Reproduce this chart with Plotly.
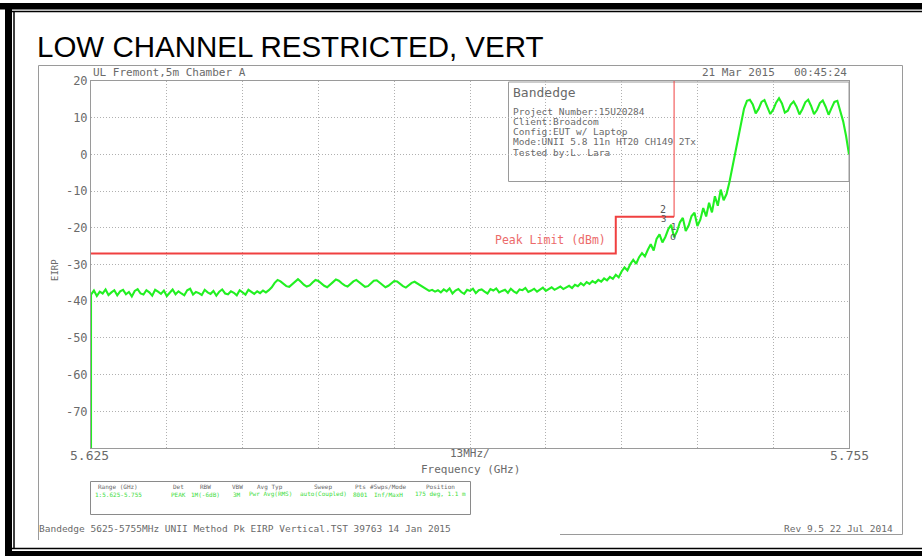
import numpy as np
import plotly.graph_objects as go

# ---- sweep data: EIRP (dBm) in 0.5 MHz bins from 5.625 to 5.755 GHz ----
f_start, f_stop = 5.625, 5.755

floor_low = [
    -38.2, -37.1, -38.6, -37.4, -37.9, -36.8, -38.3, -37.6, -37.0, -38.4,
    -37.3, -36.9, -38.1, -37.5, -38.7, -37.2, -36.7, -37.9, -38.2, -37.0,
    -37.6, -38.5, -36.9, -37.4, -38.0, -37.1, -38.6, -37.7, -36.8, -38.1,
    -37.3, -37.9, -38.4, -37.0, -36.6, -38.2, -37.5, -37.8, -38.3, -36.9,
    -37.6, -38.0, -37.2, -38.5, -37.4, -36.8, -37.9, -38.1, -37.3, -37.7,
    -38.4, -37.0, -37.6, -38.2, -36.9, -37.5, -38.0, -37.3, -37.8, -37.1,
    -37.6, -37.0,
]
floor_bump = [
    -36.2, -35.0, -34.2, -34.6, -35.3, -35.9, -36.1, -35.4, -34.5, -34.0,
    -34.7, -35.5, -36.0, -35.7, -34.9, -34.2, -34.5, -35.2, -35.8, -36.2,
    -35.6, -34.8, -34.1, -34.4, -35.1, -35.7, -36.0, -35.3, -34.6, -34.2,
    -34.8, -35.6, -36.1, -35.9, -35.0, -34.4, -34.3, -35.0, -35.7, -36.2,
    -35.8, -35.1, -34.5, -34.6, -35.3, -35.9, -36.3, -35.7, -35.0, -34.7,
    -35.2, -35.9, -36.4, -36.8, -37.2, -36.9, -37.4, -37.0,
]
floor_high = [
    -37.6, -36.8, -37.3, -36.5, -37.9, -37.1, -36.7, -37.5, -38.0, -36.9,
    -37.2, -36.6, -37.8, -37.0, -36.8, -37.4, -37.9, -36.7, -37.1, -36.5,
    -37.6, -37.2, -36.9, -37.7, -36.6, -37.3, -37.8, -36.8, -37.0, -36.4,
    -37.5, -37.1, -36.6, -37.4, -36.9, -36.3, -37.2, -36.7, -36.2, -36.9,
    -36.5, -36.0, -36.7, -36.3,
]
skirt_low = [
    -35.8, -36.4, -35.5, -35.9, -35.1, -35.7, -34.8, -35.3, -34.5, -35.0,
    -34.2, -34.7, -33.8, -34.3, -33.4, -33.9,
]
skirt_mid = [
    -32.8, -33.5, -31.9, -30.8, -31.6, -29.9, -28.7, -29.8, -28.0, -26.9,
    -27.8, -26.0,
    -24.5, -26.2, -23.0, -21.8, -24.0, -22.5, -20.4, -19.2, -22.6, -21.0,
    -18.5, -17.3, -20.9, -19.4, -16.8, -15.9, -19.5,
    -17.8, -14.6, -16.9, -13.2, -15.8, -11.4, -14.0, -9.6, -12.5,
]
band_edge_rise = [-10.8, -7.5, -3.6, 0.4, 4.3, 8.2]
in_band = [
    12.5, 14.6, 14.9, 13.6, 11.2, 12.4, 14.3, 14.8, 13.1, 11.0,
    12.2, 14.1, 15.3, 13.9, 11.4, 11.9, 13.6, 14.4, 13.0, 10.9,
    12.3, 14.2, 14.9, 13.2, 11.0, 12.1, 14.0, 14.7, 13.0, 10.8,
    12.6, 14.3, 14.6, 11.5, 9.0, 5.0, 0.0,
]
sweep_start_dbm = -80.0  # trace enters from the bottom of the screen

eirp = floor_low + floor_bump + floor_high + skirt_low + skirt_mid + band_edge_rise + in_band
freq = np.linspace(f_start, f_stop, len(eirp))
trace_f = np.concatenate([[f_start], freq])
trace_db = np.concatenate([[sweep_start_dbm], eirp])

# ---- peak limit line (dBm) ----
limit_f = [5.625, 5.715, 5.715, 5.725]
limit_db = [-27, -27, -17, -17]
edge_f = [5.725, 5.725]
edge_db = [-17, 20]

y_ticks = [20, 10, 0, -10, -20, -30, -40, -50, -60, -70]
x_grid = [5.625 + 0.013 * k for k in range(11)]

info_lines = [
    "Project Number:15U20284",
    "Client:Broadcom",
    "Config:EUT w/ Laptop",
    "Mode:UNII 5.8 11n HT20 CH149 2Tx",
    "Tested by:L. Lara",
]
table_heads = ["Range (GHz)", "Det", "RBW", "VBW", "Avg Typ", "Sweep", "Pts", "#Swps/Mode", "Position"]
table_vals = ["1:5.625-5.755", "PEAK", "1M(-6dB)", "3M", "Pwr Avg(RMS)", "auto(Coupled)", "8001", "Inf/MaxH", "175 deg, 1.1 m"]
table_x = [118, 178, 205, 237, 270, 323, 360, 388, 440]

# ---- layout geometry (pixels) ----
W_FIG, H_FIG = 922, 558
L, R, T, B = 91, 849, 81, 448
PW, PH = R - L, B - T


def px(x):
    return (x - L) / PW


def py(y):
    return (B - y) / PH


MONO = "DejaVu Sans Mono"
GRAY = "#6a6a6a"
GREEN = "#22f022"
RED = "#f04040"
GRID = "#b0b0b0"

fig = go.Figure()
fig.add_trace(go.Scatter(x=trace_f, y=trace_db, mode="lines",
                         line=dict(color=GREEN, width=2.1), hoverinfo="skip"))
fig.add_trace(go.Scatter(x=limit_f, y=limit_db, mode="lines",
                         line=dict(color=RED, width=2), hoverinfo="skip"))
fig.add_trace(go.Scatter(x=edge_f, y=edge_db, mode="lines",
                         line=dict(color=RED, width=1), hoverinfo="skip"))

shapes = []
# outer page borders
shapes.append(dict(type="rect", xref="paper", yref="paper", x0=px(0), x1=px(922), y0=py(3), y1=py(9.5),
                   fillcolor="black", line=dict(width=0), layer="above"))
shapes.append(dict(type="line", xref="paper", yref="paper", x0=px(12), x1=px(922), y0=py(11.5), y1=py(11.5),
                   line=dict(color="black", width=1.5), layer="above"))
shapes.append(dict(type="rect", xref="paper", yref="paper", x0=px(5), x1=px(12), y0=py(3), y1=py(556),
                   fillcolor="black", line=dict(width=0), layer="above"))
shapes.append(dict(type="line", xref="paper", yref="paper", x0=px(14), x1=px(14), y0=py(11), y1=py(549),
                   line=dict(color="black", width=1.5), layer="above"))
shapes.append(dict(type="line", xref="paper", yref="paper", x0=px(12), x1=px(922), y0=py(548.5), y1=py(548.5),
                   line=dict(color="black", width=1.5), layer="above"))
shapes.append(dict(type="rect", xref="paper", yref="paper", x0=px(5), x1=px(922), y0=py(551), y1=py(556),
                   fillcolor="black", line=dict(width=0), layer="above"))
# analyzer screen frame
for x0, y0, x1, y1 in [(38.5, 65.5, 902.5, 65.5), (38.5, 65.5, 38.5, 540), (902.5, 65.5, 902.5, 534.5),
                       (560, 534.5, 902.5, 534.5)]:
    shapes.append(dict(type="line", xref="paper", yref="paper", x0=px(x0), x1=px(x1), y0=py(y0), y1=py(y1),
                       line=dict(color="#9a9a9a", width=1), layer="above"))
# info box (covers the grid, sits under the traces)
shapes.append(dict(type="rect", xref="paper", yref="paper", x0=px(508.5), x1=px(849), y0=py(82), y1=py(181.5),
                   fillcolor="white", line=dict(color="#9a9a9a", width=1), layer="between"))
# settings table box
shapes.append(dict(type="rect", xref="paper", yref="paper", x0=px(90.5), x1=px(470.5), y0=py(481.5), y1=py(514.5),
                   fillcolor="white", line=dict(color="#8a8a8a", width=1), layer="above"))

ann = []


def text(s, x, y, size, color=GRAY, anchor="left", family=MONO, yanchor="middle"):
    ann.append(dict(text=s, x=px(x), y=py(y), xref="paper", yref="paper", showarrow=False,
                    xanchor=anchor, yanchor=yanchor, font=dict(family=family, size=size, color=color)))


text("LOW CHANNEL RESTRICTED, VERT", 35, 47, 29.5, color="black", family="Liberation Sans")
text("UL Fremont,5m Chamber A", 91, 73, 11)
text("21 Mar 2015", 700, 73, 11)
text("00:45:24", 849, 73, 11, anchor="right")
text("Bandedge", 511, 92, 13)
for k, line in enumerate(info_lines):
    text(line, 511, 111 + k * 10.3, 9.5)
text("Peak Limit (dBm)", 550, 240, 11.5, color="#ec6a6a", anchor="center")
text("2", 663, 209, 10, color="#555555", anchor="center")
text("3", 663, 219, 9, color="#555555", anchor="center")
text("1", 673, 227, 9, color="#555555", anchor="center")
text("o", 673, 236, 10, color="#555555", anchor="center")
text("5.625", 89, 455, 13, anchor="center")
text("13MHz/", 470, 453, 11, anchor="center")
text("5.755", 849, 455, 13, anchor="center")
text("Frequency (GHz)", 470, 469, 11, anchor="center")
ann.append(dict(text="EIRP", x=px(48), y=py(270), xref="paper", yref="paper", showarrow=False,
                textangle=-90, font=dict(family=MONO, size=9, color=GRAY)))
for h, v, x in zip(table_heads, table_vals, table_x):
    text(h, x, 487, 6, color="#666666", anchor="center")
    text(v, x, 494, 6, color="#3cdc3c", anchor="center")
text("Bandedge 5625-5755MHz UNII Method Pk EIRP Vertical.TST 39763 14 Jan 2015", 37, 528, 9.5)
text("Rev 9.5 22 Jul 2014", 895, 528, 9.5, anchor="right")

fig.update_layout(
    width=W_FIG, height=H_FIG,
    margin=dict(l=L, r=W_FIG - R, t=T, b=H_FIG - B, pad=0),
    paper_bgcolor="white", plot_bgcolor="white",
    showlegend=False, shapes=shapes, annotations=ann,
    xaxis=dict(range=[f_start, f_stop], tickvals=x_grid, showticklabels=False, ticks="",
               showgrid=True, gridcolor=GRID, griddash="1px,2px", gridwidth=1,
               showline=True, mirror=True, linecolor="#9a9a9a", linewidth=1, zeroline=False, fixedrange=True),
    yaxis=dict(range=[-80, 20], tickvals=y_ticks, ticktext=[str(v) for v in y_ticks], ticks="",
               tickfont=dict(family=MONO, size=12, color=GRAY),
               showgrid=True, gridcolor=GRID, griddash="1px,2px", gridwidth=1,
               showline=True, mirror=True, linecolor="#9a9a9a", linewidth=1, zeroline=False, fixedrange=True),
)

fig.write_html("out.html")
